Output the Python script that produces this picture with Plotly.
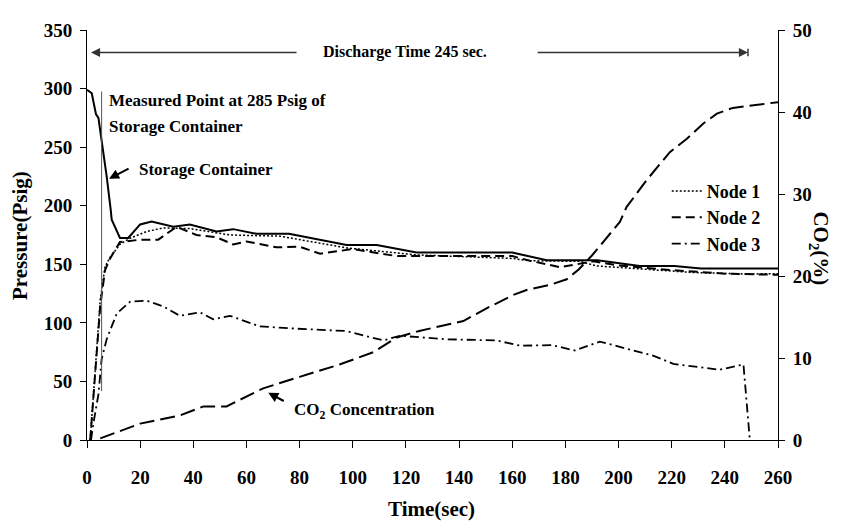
import plotly.graph_objects as go

# storage container pressure (solid)
t_storage = [0, 1.8, 2.4, 3.4, 4.3, 5.5, 7.4, 8.9, 9.3, 12.4, 15.5, 20, 24.3, 32.5, 38.7, 48.7, 55,
             63.8, 76, 97.7, 109, 124, 160, 173, 192, 208, 221, 231, 260]
p_storage = [299, 296, 289, 278, 275, 256, 225, 197, 188, 172.5, 172.5, 184, 186.5, 182, 184, 178, 180,
             176, 176, 166.5, 166.5, 160, 160, 153.5, 153.5, 148.5, 148.5, 146.5, 146.5]

# node pressures
t_node1 = [1.2, 3, 5, 6.8, 8.7, 12.4, 16, 22.4, 28.7, 38.7, 53.8, 72.6, 97.7, 124, 160, 166.7,
           185.5, 191.7, 208, 228, 248, 260]
p_node1 = [0, 60, 120, 148, 156, 167, 172, 178, 181, 180.5, 175, 174, 164, 158, 155, 153,
           152.5, 148.6, 146, 143, 141.7, 142]

t_node2 = [1.2, 3, 5, 6.8, 8.7, 12.4, 20, 26.8, 33.7, 41.2, 48.8, 55, 60, 71.3, 80, 87.7, 100,
           116.5, 160, 166.7, 178, 190.5, 200, 220, 240, 260]
p_node2 = [0, 55, 115, 145, 155, 169, 171, 171, 182, 175, 173, 167, 169.5, 164.5, 165, 159, 163,
           157, 157, 153, 147.5, 152.5, 149, 145, 142, 141]

t_node3 = [1.5, 2.4, 4.3, 5.5, 7.4, 11.2, 16.2, 22.4, 28.7, 35, 42.5, 47.5, 53.8, 65, 79, 97.7,
           111.5, 117.8, 135, 154, 163, 175, 183.5, 193, 203, 213, 220.6, 230.6, 238, 247, 249.4]
p_node3 = [0, 14, 39, 69, 86, 108, 118, 119, 114, 106, 109, 103, 106, 97, 95, 93,
           85, 89, 86, 85, 80.5, 81, 76.4, 84, 78, 72, 65, 62.5, 60, 64.5, 0]

# CO2 concentration (%), right axis
t_co2 = [5, 10, 20, 35, 43.8, 52.5, 60, 66.3, 80, 95, 107.7, 116.5, 125, 132.8, 141.6, 150, 160.4,
         165.4, 174, 180.5, 185, 190, 195, 200.5, 203, 210.6, 219.3, 225.6, 231.9, 237, 243, 250, 260]
co2 = [0.2, 0.8, 2, 3, 4.1, 4.1, 5.3, 6.3, 7.7, 9.2, 10.7, 12.5, 13.3, 13.9, 14.5, 16, 17.7,
       18.3, 18.9, 19.6, 20.8, 22.5, 24.5, 26.6, 28.4, 31.7, 35.1, 36.7, 38.6, 39.8, 40.5, 40.8, 41.2]

x_ticks = list(range(0, 261, 20))
FONT = "Liberation Serif"

fig = go.Figure()
fig.add_trace(go.Scatter(x=t_storage, y=p_storage, mode="lines", showlegend=False,
                         line=dict(color="black", width=2)))
fig.add_trace(go.Scatter(x=t_node1, y=p_node1, mode="lines", name="Node 1",
                         line=dict(color="black", width=1.5, dash="2px,2px")))
fig.add_trace(go.Scatter(x=t_node2, y=p_node2, mode="lines", name="Node 2",
                         line=dict(color="black", width=2, dash="9px,5px")))
fig.add_trace(go.Scatter(x=t_node3, y=p_node3, mode="lines", name="Node 3",
                         line=dict(color="black", width=1.8, dash="9px,4px,2px,4px")))
fig.add_trace(go.Scatter(x=t_co2, y=co2, mode="lines", yaxis="y2", showlegend=False,
                         line=dict(color="black", width=2, dash="15px,6px")))

tickfont = dict(family=FONT, size=19, color="black", weight="bold")
txt = dict(family=FONT, size=17, color="black", weight="bold")
title_font = dict(family=FONT, size=21, color="black", weight="bold")

annotations = [
    # discharge arrows
    dict(x=1.5, y=330.8, ax=79.4, ay=330.8, xref="x", yref="y", axref="x", ayref="y",
         text="", showarrow=True, arrowhead=2, arrowsize=1.4, arrowwidth=1.3, arrowcolor="#333"),
    dict(x=248.7, y=330.8, ax=169, ay=330.8, xref="x", yref="y", axref="x", ayref="y",
         text="", showarrow=True, arrowhead=2, arrowsize=1.4, arrowwidth=1.3, arrowcolor="#333"),
    dict(x=119.6, y=330.8, xref="x", yref="y", text="Discharge Time 245 sec.", showarrow=False,
         font=dict(family=FONT, size=16, color="black", weight="bold")),
    dict(x=7.5, y=290, xref="x", yref="y", xanchor="left", text="Measured Point at 285 Psig of",
         showarrow=False, font=txt),
    dict(x=7.5, y=267.5, xref="x", yref="y", xanchor="left", text="Storage Container",
         showarrow=False, font=txt),
    dict(x=8.3, y=223, ax=21, ay=-11, xref="x", yref="y", text="", showarrow=True,
         arrowhead=2, arrowsize=1, arrowwidth=2, arrowcolor="black"),
    dict(x=18.8, y=231, xref="x", yref="y", xanchor="left", text="Storage Container",
         showarrow=False, font=txt),
    dict(x=68.2, y=40.3, ax=17, ay=9, xref="x", yref="y", text="", showarrow=True,
         arrowhead=2, arrowsize=1, arrowwidth=2, arrowcolor="black"),
    dict(x=77.1, y=25, xref="x", yref="y", xanchor="left", text="CO<sub>2</sub> Concentration",
         showarrow=False, font=txt),
    # axis titles
    dict(x=-0.097, y=0.5, xref="paper", yref="paper", xanchor="center", yanchor="middle",
         text="Pressure(Psig)", textangle=-90, showarrow=False, font=title_font),
    dict(x=1.061, y=0.467, xref="paper", yref="paper", xanchor="center", yanchor="middle",
         text="CO<sub>2</sub>(%)", textangle=90, showarrow=False, font=title_font),
    dict(x=0.499, y=-0.168, xref="paper", yref="paper", xanchor="center", yanchor="middle",
         text="Time(sec)", showarrow=False, font=title_font),
]

shapes = [
    # measured point marker line
    dict(type="line", xref="x", yref="y", x0=5.5, x1=5.5, y0=41.7, y1=297.5,
         line=dict(color="#555", width=1)),
    # end bar of discharge arrow
    dict(type="line", xref="x", yref="y", x0=248.7, x1=248.7, y0=327.5, y1=334,
         line=dict(color="#333", width=1.5)),
]

# page body has an 8px margin, so the figure is a bit smaller than the window
fig.update_layout(
    width=825, height=513,
    margin=dict(l=79, r=55, t=12, b=81),
    plot_bgcolor="white", paper_bgcolor="white",
    font=dict(family=FONT, color="black"),
    xaxis=dict(range=[0, 260], tickvals=x_ticks, showgrid=False, zeroline=False,
               showline=True, linecolor="black", linewidth=1, ticks="outside", ticklen=7,
               tickcolor="black", tickfont=tickfont, ticklabelstandoff=13),
    yaxis=dict(range=[0, 350], dtick=50, showgrid=False, zeroline=False,
               showline=True, linecolor="black", linewidth=1, ticks="outside", ticklen=6,
               tickcolor="black", tickfont=tickfont, ticklabelstandoff=4),
    yaxis2=dict(range=[0, 50], dtick=10, overlaying="y", side="right", showgrid=False,
                zeroline=False, showline=True, linecolor="black", linewidth=1,
                ticks="outside", ticklen=6, tickcolor="black", tickfont=tickfont,
                ticklabelstandoff=4),
    legend=dict(x=0.839, y=0.652, xanchor="left", yanchor="top", bgcolor="rgba(0,0,0,0)",
                font=dict(family=FONT, size=18, color="black", weight="bold")),
    annotations=annotations,
    shapes=shapes,
)

fig.write_html("out.html")
